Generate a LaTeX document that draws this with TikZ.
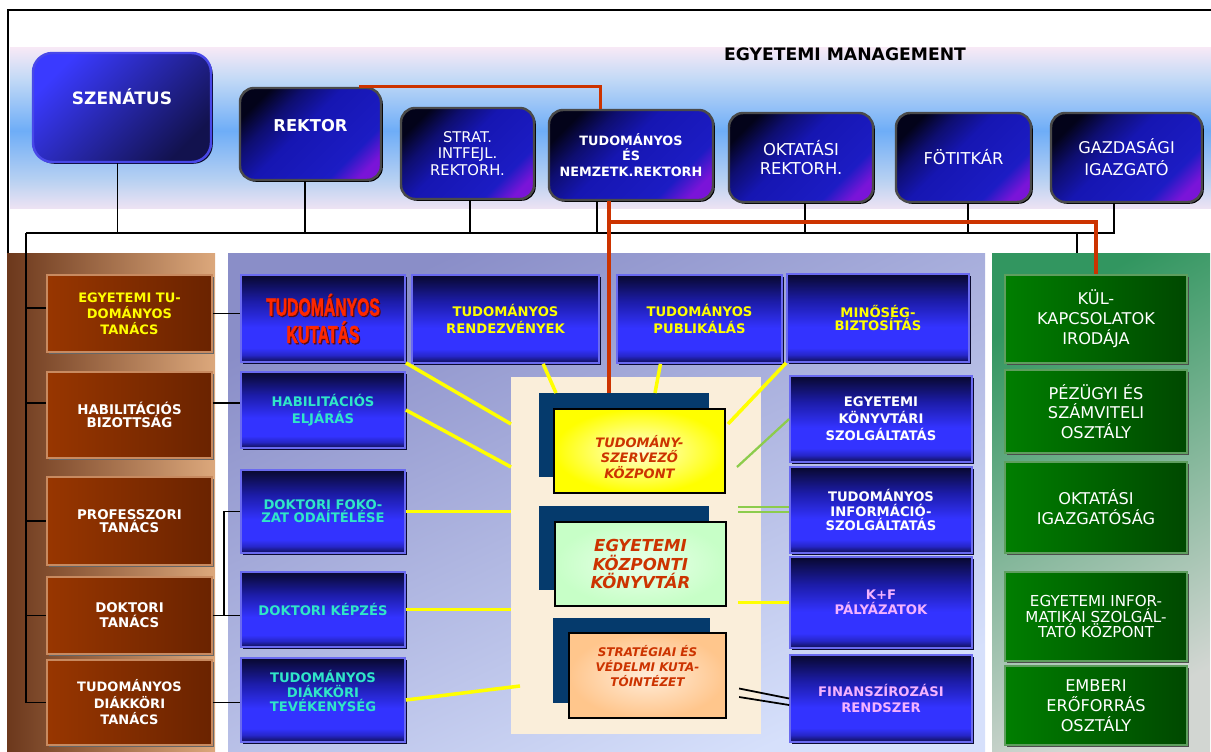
\documentclass[tikz,border=0pt]{standalone}
\usepackage{fontspec}
\setmainfont{DejaVu Sans}
\newfontfamily\kutfont{Liberation Sans Bold}[FakeBold=2]
\usetikzlibrary{positioning,shadows}

\definecolor{bandtop}{HTML}{F8E9F6}
\definecolor{bandup}{HTML}{C2D9F6}
\definecolor{bandblue}{HTML}{6EADF7}
\definecolor{bandmid}{HTML}{B6D0F2}
\definecolor{bandlo}{HTML}{EDE3F3}
\definecolor{navytop}{HTML}{03031A}
\definecolor{navydark}{HTML}{0E0E70}
\definecolor{navymid}{HTML}{1616B2}
\definecolor{navyblue}{HTML}{1C1CC4}
\definecolor{navypurple}{HTML}{7A14D8}
\definecolor{boxrim}{HTML}{4A4A4A}
\definecolor{senlight}{HTML}{3A3AFF}
\definecolor{senmid}{HTML}{1E1E96}
\definecolor{sendark}{HTML}{12124E}
\definecolor{senrim}{HTML}{4848E8}
\definecolor{bbtop}{HTML}{08082E}
\definecolor{bbup}{HTML}{1C1CA8}
\definecolor{bbright}{HTML}{3333FF}
\definecolor{bblow}{HTML}{2626C8}
\definecolor{bbbot}{HTML}{0E0E4E}
\definecolor{bluerim}{HTML}{6A6AF0}
\definecolor{bshadow}{HTML}{0A0A30}
\definecolor{brownL}{HTML}{983600}
\definecolor{brownR}{HTML}{6A2300}
\definecolor{browntan}{HTML}{C88A60}
\definecolor{lpanL}{HTML}{6C381C}
\definecolor{lpanM}{HTML}{B0683A}
\definecolor{lpanR}{HTML}{DCA87C}
\definecolor{mpanA}{HTML}{8A8EC8}
\definecolor{mpanB}{HTML}{D6E0FB}
\definecolor{rpanA}{HTML}{329660}
\definecolor{rpanB}{HTML}{D2D6D2}
\definecolor{greenL}{HTML}{007E00}
\definecolor{greenR}{HTML}{004800}
\definecolor{greenrim}{HTML}{5E9E5E}
\definecolor{creamcol}{HTML}{FAEEDA}
\definecolor{cshadow}{HTML}{053A6C}
\definecolor{ctext}{HTML}{CC3300}
\definecolor{ytext}{HTML}{FFFF00}
\definecolor{cyantxt}{HTML}{30E6C8}
\definecolor{pinktxt}{HTML}{F4B2FF}
\definecolor{kuttxt}{HTML}{FF2800}
\definecolor{kutshadow}{HTML}{5A0A10}
\definecolor{redline}{HTML}{CC3300}
\definecolor{lgreen}{HTML}{8CCC4C}

\pgfdeclareverticalshading{bandshade}{100bp}{color(0bp)=(bandlo); color(25bp)=(bandlo); color(34bp)=(bandmid); color(49bp)=(bandblue); color(65bp)=(bandup); color(75bp)=(bandtop); color(100bp)=(bandtop)}
\pgfdeclareverticalshading{bluebar}{100bp}{color(0bp)=(bbbot); color(25bp)=(bbbot); color(29bp)=(bblow); color(33bp)=(bbright); color(45bp)=(bbright); color(60bp)=(bbup); color(75bp)=(bbtop); color(100bp)=(bbtop)}
\pgfdeclareverticalshading{topnavy}{100bp}{color(0bp)=(navypurple); color(22bp)=(navypurple); color(31bp)=(navyblue); color(54bp)=(navymid); color(66bp)=(navydark); color(76bp)=(navytop); color(100bp)=(navytop)}

\newcommand{\setfs}[2]{\fontsize{#1}{#2}\selectfont}

\tikzset{
  sz/.style 2 args={minimum width=#1*0.02cm, minimum height=#2*0.02cm},
  blk/.style={draw=black, line width=1.1pt},
  redl/.style={draw=redline, line width=1.8pt},
  ylw/.style={draw=ytext, line width=2pt},
  grnl/.style={draw=lgreen, line width=1.3pt},
  topbox/.style={rectangle, rounded corners=8pt, draw=boxrim, line width=1.4pt,
    shade, shading=topnavy, shading angle=45,
    text=white, align=center, inner sep=1pt,
    drop shadow={shadow xshift=1pt, shadow yshift=-1pt, opacity=1, fill=black}},
  senbox/.style={rectangle, rounded corners=11pt, draw=senrim, line width=1.4pt,
    top color=senlight, middle color=senmid, bottom color=sendark, shading angle=45,
    drop shadow={shadow xshift=1pt, shadow yshift=-1pt, opacity=1, fill=bshadow}},
  toptxt/.style={text=white, align=center, inner sep=0pt},
  bluebox/.style={rectangle, shade, shading=bluebar, draw=bluerim, line width=1pt,
    align=center, inner sep=1pt, font=\bfseries\setfs{7.5}{9.6},
    drop shadow={shadow xshift=1.2pt, shadow yshift=-1.2pt, opacity=1, fill=bshadow}},
  bluetxt/.style={align=center, inner sep=0pt},
  brownbox/.style={rectangle, left color=brownL, right color=brownR, draw=browntan,
    line width=1pt, text=white, align=center, inner sep=1pt,
    drop shadow={shadow xshift=1pt, shadow yshift=-1pt, opacity=1, fill=black!60}},
  greenbox/.style={rectangle, left color=greenL, right color=greenR, draw=greenrim,
    line width=1pt, text=white, align=center, inner sep=1pt, font=\setfs{9.2}{11.3},
    drop shadow={shadow xshift=1pt, shadow yshift=-1pt, opacity=1, fill=black!70}},
  shbox/.style={rectangle, fill=cshadow, inner sep=0pt},
  cbox/.style={rectangle, draw=black, line width=1.3pt, align=center, inner sep=1pt,
    text=ctext, font=\bfseries\itshape\setfs{7.4}{8.8}},
  ctxt/.style={align=center, inner sep=0pt, text=ctext},
  kuttxt/.style={align=center, inner sep=0pt, font=\kutfont\setfs{14}{15.6}},
  panel/.style={rectangle, inner sep=0pt}
}

\begin{document}
\begin{tikzpicture}[x=0.02cm, y=-0.02cm]
\useasboundingbox (0,0) rectangle (1211,751);

\shade[shading=bandshade] (10,47) rectangle (1211,208);
\draw[blk] (8,253) |- (1211,10);
\node[font=\bfseries\setfs{9.8}{11}] (mgmt) at (845,54) {EGYETEMI MANAGEMENT};

\node[panel, sz={208}{498}, left color=lpanL, middle color=lpanM, right color=lpanR] (lpanel) at (111,502) {};
\node[panel, sz={757}{498}, top color=mpanA, bottom color=mpanB, shading angle=25] (mpanel) at (606.5,502) {};
\node[panel, sz={218}{498}, top color=rpanA, bottom color=rpanB, shading angle=30] (rpanel) at (1101,502) {};
\node[panel, sz={250}{357}, fill=creamcol] (cream) at (636,555.5) {};

\node[senbox, sz={178}{109}] (szenatus) at (122,107.5) {};
\node[toptxt, font=\bfseries\setfs{9.7}{11}] (szenatus-t) at (122,97) {SZENÁTUS};
\node[topbox, sz={141}{92}] (rektor) at (310.5,134) {};
\node[toptxt, font=\bfseries\setfs{9.3}{11}] (rektor-t) at (310.5,126) {REKTOR};
\node[topbox, sz={133}{91}, font=\setfs{8.4}{9.4}] (strat) at (467.5,153.5) {STRAT.\\INTFEJL.\\REKTORH.};
\node[topbox, sz={164}{90}, font=\bfseries\setfs{7.3}{9}] (tudrh) at (631,155) {TUDOMÁNYOS\\ÉS\\NEMZETK.REKTORH};
\node[topbox, sz={144}{89}, font=\setfs{9.3}{11.3}] (oktrh) at (801,157.5) {OKTATÁSI\\REKTORH.};
\node[topbox, sz={135}{89}, font=\setfs{9.3}{11}] (fotitkar) at (963.5,157.5) {FÖTITKÁR};
\node[topbox, sz={151}{89}, font=\setfs{9.2}{12.5}] (gazd) at (1126.5,157.5) {GAZDASÁGI\\IGAZGATÓ};

\node[brownbox, sz={165}{77}, text=ytext, font=\bfseries\setfs{7.4}{9}] (etb) at (129.5,313.5) {EGYETEMI TU-\\DOMÁNYOS\\TANÁCS};
\node[brownbox, sz={165}{86}, font=\bfseries\setfs{7.6}{7.6}] (hab) at (129.5,415) {HABILITÁCIÓS\\BIZOTTSÁG};
\node[brownbox, sz={165}{88}, font=\bfseries\setfs{7.6}{7.4}] (prof) at (129.5,521) {PROFESSZORI\\TANÁCS};
\node[brownbox, sz={165}{77}, font=\bfseries\setfs{7.6}{8.5}] (dokt) at (129.5,615.5) {DOKTORI\\TANÁCS};
\node[brownbox, sz={165}{85}, font=\bfseries\setfs{7.4}{9.4}] (tdkt) at (129.5,702.5) {TUDOMÁNYOS\\DIÁKKÖRI\\TANÁCS};

\node[bluebox, sz={164}{87}] (kut) at (323,318.5) {};
\node[kuttxt, text=kutshadow] (kut-sh) at (324.2,319.7) {\scalebox{0.64}[1]{TUDOMÁNYOS}\\\scalebox{0.64}[1]{KUTATÁS}};
\node[kuttxt, text=kuttxt] (kut-t) at (323,318.5) {\scalebox{0.64}[1]{TUDOMÁNYOS}\\\scalebox{0.64}[1]{KUTATÁS}};
\node[bluebox, sz={164}{76}, text=cyantxt] (habelj) at (323,410) {HABILITÁCIÓS\\ELJÁRÁS};
\node[bluebox, sz={164}{83}, text=cyantxt, font=\bfseries\setfs{7.5}{7.6}] (dokfok) at (323,511.5) {DOKTORI FOKO-\\ZAT ODAÍTÉLÉSE};
\node[bluebox, sz={164}{75}, text=cyantxt] (dokkep) at (323,609.5) {DOKTORI KÉPZÉS};
\node[bluebox, sz={164}{84}] (tdk) at (323,700) {};
\node[bluetxt, text=cyantxt, font=\bfseries\setfs{7.5}{8.4}] (tdk-t) at (323,691) {TUDOMÁNYOS\\DIÁKKÖRI\\TEVÉKENYSÉG};

\node[bluebox, sz={187}{88}, text=ytext] (rend) at (505.5,319) {TUDOMÁNYOS\\RENDEZVÉNYEK};
\node[bluebox, sz={165}{88}, text=ytext] (publ) at (699.5,319) {TUDOMÁNYOS\\PUBLIKÁLÁS};
\node[bluebox, sz={182}{88}, text=ytext, font=\bfseries\setfs{7.5}{7.6}] (minoseg) at (878,318) {MINŐSÉG-\\BIZTOSÍTÁS};

\node[bluebox, sz={182}{86}, text=white] (konyvt) at (881,419) {EGYETEMI\\KÖNYVTÁRI\\SZOLGÁLTATÁS};
\node[bluebox, sz={182}{86}, text=white, font=\bfseries\setfs{7.5}{8.5}] (info) at (881,510) {TUDOMÁNYOS\\INFORMÁCIÓ-\\SZOLGÁLTATÁS};
\node[bluebox, sz={182}{91}, text=pinktxt, font=\bfseries\setfs{7.5}{8.5}] (kf) at (881,602.5) {K+F\\PÁLYÁZATOK};
\node[bluebox, sz={182}{87}, text=pinktxt] (fin) at (881,698.5) {FINANSZÍROZÁSI\\RENDSZER};

\node[greenbox, sz={182}{88}] (kul) at (1096,319) {KÜL-\\KAPCSOLATOK\\IRODÁJA};
\node[greenbox, sz={182}{83}] (penz) at (1096,411.5) {PÉZÜGYI ÉS\\SZÁMVITELI\\OSZTÁLY};
\node[greenbox, sz={182}{91}] (oktig) at (1096,507.5) {OKTATÁSI\\IGAZGATÓSÁG};
\node[greenbox, sz={182}{89}, font=\setfs{8.6}{9}] (infor) at (1096,616.5) {EGYETEMI INFOR-\\MATIKAI SZOLGÁL-\\TATÓ KÖZPONT};
\node[greenbox, sz={182}{79}] (ember) at (1096,705.5) {EMBERI\\ERŐFORRÁS\\OSZTÁLY};

\node[shbox, sz={170}{84}] (tsz-sh) at (624,435) {};
\node[cbox, sz={171}{84}, inner color=ytext!15, outer color=ytext] (tsz) at (639.5,451) {};
\node[ctxt, font=\bfseries\itshape\setfs{7.4}{8.8}] (tsz-t) at (639.5,457) {TUDOMÁNY-\\SZERVEZŐ\\KÖZPONT};
\node[shbox, sz={170}{84}] (kk-sh) at (624,548) {};
\node[cbox, sz={171}{84}, inner color=green!8, outer color=green!22, font=\bfseries\itshape\setfs{9.4}{10.8}] (kk) at (640.5,564) {EGYETEMI\\KÖZPONTI\\KÖNYVTÁR};
\node[shbox, sz={157}{85}] (svk-sh) at (631.5,660.5) {};
\node[cbox, sz={157}{85}, inner color=orange!15, outer color=orange!45] (svk) at (647.5,675.5) {};
\node[ctxt, font=\bfseries\itshape\setfs{6.8}{8.4}] (svk-t) at (647.5,666) {STRATÉGIAI ÉS\\VÉDELMI KUTA-\\TÓINTÉZET};

\coordinate (bus) at (26,233);
\foreach \n/\x in {szenatus/117.5, rektor/305, strat/470, tudrh/597, oktrh/805, fotitkar/968, gazd/1114}
  \draw[blk] (\n.south -| \x,0) |- (bus);
\draw[blk] (bus) -- (bus |- tdkt.west);
\coordinate (etbW) at ([yshift=3pt]etb.west);
\coordinate (habW) at ([yshift=6.8pt]hab.west);
\coordinate (habE) at ([yshift=6.8pt]hab.east);
\foreach \n in {etbW, habW, prof.west, dokt.west, tdkt.west}
  \draw[blk] (bus |- \n) -- (\n);
\draw[blk] (etb.east) -- (etb.east -| kut.west);
\draw[blk] (habE) -- (habE -| habelj.west);
\draw[blk] (dokt.east) -- (dokt.east -| dokkep.west);
\draw[blk] (dokt.east) -- ++(11,0) |- (dokfok.west);
\draw[blk] (tdkt.east) -- (tdkt.east -| tdk.west);
\coordinate (gdrop) at (1077,233);
\draw[blk] (gdrop) -- (gdrop |- rpanel.north);

\coordinate (y1) at (511,424);
\coordinate (y2) at (511,467);
\coordinate (y3) at (520,686);
\coordinate (y4) at (556,393);
\coordinate (y5) at (655,393);
\coordinate (y6) at (728,424);
\coordinate (g1) at (737,467);
\draw[ylw] (kut.south east) -- (y1);
\draw[ylw] (habelj.east) -- (y2);
\draw[ylw] (dokfok.east) -- (dokfok.east -| cream.west);
\draw[ylw] (dokkep.east) -- (dokkep.east -| cream.west);
\draw[ylw] (tdk.east) -- (y3);
\draw[ylw] (rend.310) -- (y4);
\draw[ylw] (publ.229) -- (y5);
\draw[ylw] (minoseg.south west) -- (y6);
\draw[ylw] (kf.west) -- ++(-51,0);
\draw[grnl] (konyvt.west) -- (g1);
\draw[grnl] ([yshift=1.6pt]info.west) -- ++(-51,0);
\draw[grnl] ([yshift=-1.2pt]info.west) -- ++(-51,0);
\draw[blk, line width=1pt] (fin.west) -- ++(-50,-10);
\draw[blk, line width=1pt] ([yshift=-3.7pt]fin.west) -- ++(-50,-8);

\draw[redl] ([xshift=27.5pt]rektor.north) -| ([xshift=-17.6pt]tudrh.north);
\coordinate (redx) at (609,222);
\draw[redl] (tudrh.south -| redx) -- (redx |- tsz-sh.north);
\draw[redl] (redx) -| (kul.north);
\end{tikzpicture}
\end{document}
